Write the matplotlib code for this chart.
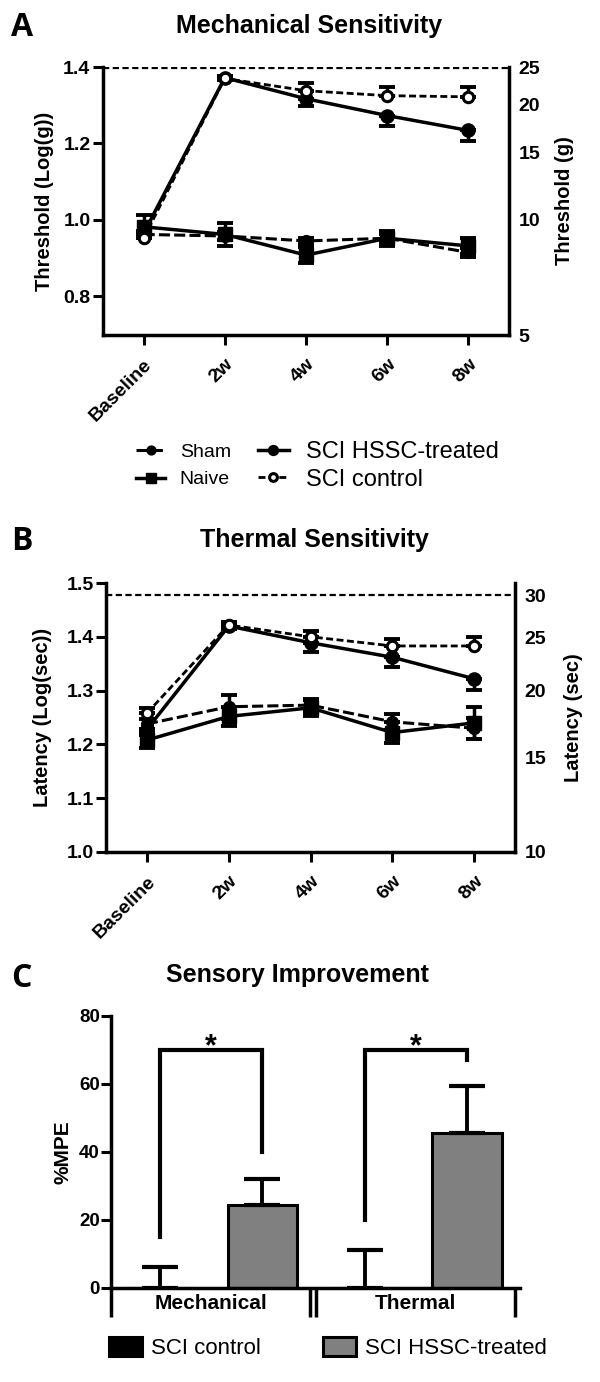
import numpy as np
import matplotlib
matplotlib.use('Agg')
import matplotlib.pyplot as plt

plt.rcParams['font.family'] = ['Liberation Sans', 'DejaVu Sans']
plt.rcParams['lines.scale_dashes'] = False
plt.rcParams['axes.linewidth'] = 2.5

# ---------------- data ----------------
timepoints = ['Baseline', '2w', '4w', '6w', '8w']

mech_sham = [0.962, 0.958, 0.945, 0.952, 0.915]
mech_sham_err = [0.010, 0.010, 0.008, 0.010, 0.012]
mech_naive = [0.982, 0.962, 0.908, 0.952, 0.932]
mech_naive_err = [0.030, 0.030, 0.022, 0.020, 0.022]
mech_hssc = [0.965, 1.372, 1.317, 1.273, 1.234]
mech_hssc_err = [0.010, 0.006, 0.020, 0.028, 0.027]
mech_ctrl = [0.952, 1.370, 1.338, 1.325, 1.322]
mech_ctrl_err = [0.010, 0.006, 0.021, 0.022, 0.025]
mech_left_ticks = [0.8, 1.0, 1.2, 1.4]
mech_right_ticks = [5, 10, 15, 20, 25]
mech_cutoff = 25

therm_sham = [1.238, 1.270, 1.273, 1.242, 1.230]
therm_sham_err = [0.010, 0.022, 0.012, 0.015, 0.020]
therm_naive = [1.208, 1.252, 1.268, 1.222, 1.240]
therm_naive_err = [0.015, 0.018, 0.015, 0.020, 0.030]
therm_hssc = [1.228, 1.420, 1.389, 1.362, 1.322]
therm_hssc_err = [0.010, 0.006, 0.018, 0.018, 0.020]
therm_ctrl = [1.258, 1.422, 1.400, 1.383, 1.383]
therm_ctrl_err = [0.010, 0.006, 0.010, 0.013, 0.016]
therm_left_ticks = [1.0, 1.1, 1.2, 1.3, 1.4, 1.5]
therm_right_ticks = [10, 15, 20, 25, 30]
therm_cutoff = 30

mpe_groups = ['Mechanical', 'Thermal']
mpe_ctrl = [0.0, 0.0]
mpe_ctrl_err = [6.3, 11.3]
mpe_hssc = [24.3, 45.6]
mpe_hssc_err = [7.8, 13.8]
sig_left_end = [15, 20]
sig_right_end = [40, 67]
sig_top = 70
mpe_yticks = [0, 20, 40, 60, 80]

# ---------------- styles ----------------
series_style = {
    'Sham': dict(marker='o', ms=8.5, mfc='black', mec='black', lw=2.2, dashes=(8, 3)),
    'Naive': dict(marker='s', ms=9.5, mfc='black', mec='black', lw=2.5, ls='-'),
    'SCI HSSC-treated': dict(marker='o', ms=9.5, mfc='black', mec='black', lw=2.5, ls='-'),
    'SCI control': dict(marker='o', ms=7.5, mfc='white', mec='black', mew=2.2, lw=2.0, dashes=(5, 2.5)),
}

W, H = 600, 1382


def box(l, t, r, b):
    return [l / W, 1 - b / H, (r - l) / W, (b - t) / H]


fig = plt.figure(figsize=(6, 13.82), dpi=100)
axA = fig.add_axes(box(103, 67, 509, 335))
axB = fig.add_axes(box(106, 583, 515, 852))
axC = fig.add_axes(box(111, 1016, 520, 1288))


def bold_ticks(labels, size):
    for t in labels:
        t.set_fontweight('bold')
        t.set_fontsize(size)


def line_panel(ax, series, ylim, left_ticks, right_ticks, cutoff, ylabel, rlabel,
               lcoord, rcoord):
    x = np.arange(len(timepoints))
    handles = {}
    for name, vals, err, direction in series:
        e = np.asarray(err)
        z = np.zeros_like(e)
        yerr = {'both': [e, e], 'up': [z, e], 'down': [e, z]}[direction]
        ax.errorbar(x, vals, yerr=yerr, fmt='none', ecolor='black', elinewidth=2.5,
                    capsize=6, capthick=2.8, zorder=3)
        ln, = ax.plot(x, vals, color='black', zorder=4, label=name, **series_style[name])
        handles[name] = ln
    ax.axhline(np.log10(cutoff), color='black', lw=1.6, dashes=(4.5, 2.5), zorder=2)
    ax.set_xlim(-0.5, len(timepoints) - 0.5)
    ax.set_ylim(*ylim)
    ax.spines['top'].set_visible(False)
    ax.spines['right'].set_visible(False)
    ax.set_xticks(x)
    ax.set_xticklabels(timepoints, rotation=45, ha='right', va='top', rotation_mode='anchor')
    ax.set_yticks(left_ticks)
    ax.set_yticklabels(['%.1f' % v for v in left_ticks])
    ax.tick_params(axis='both', length=7, width=2.2, direction='out')
    ax.tick_params(axis='y', pad=2)
    ax.tick_params(axis='x', pad=8)
    bold_ticks(ax.get_xticklabels(), 14)
    bold_ticks(ax.get_yticklabels(), 14)
    ax.set_ylabel(ylabel, fontsize=14.5, fontweight='bold')
    ax.yaxis.set_label_coords(lcoord, 0.5)

    axr = ax.twinx()
    axr.set_ylim(*ylim)
    for s in ['top', 'left', 'bottom']:
        axr.spines[s].set_visible(False)
    axr.spines['right'].set_linewidth(2.5)
    axr.set_yticks(np.log10(right_ticks))
    axr.set_yticklabels([str(v) for v in right_ticks])
    axr.tick_params(axis='y', length=0, pad=7)
    bold_ticks(axr.get_yticklabels(), 14)
    axr.set_ylabel(rlabel, fontsize=14.5, fontweight='bold')
    axr.yaxis.set_label_coords(rcoord, 0.5)
    return handles


hA = line_panel(axA,
                [('Sham', mech_sham, mech_sham_err, 'both'),
                 ('Naive', mech_naive, mech_naive_err, 'both'),
                 ('SCI HSSC-treated', mech_hssc, mech_hssc_err, 'down'),
                 ('SCI control', mech_ctrl, mech_ctrl_err, 'up')],
                (np.log10(5), np.log10(25)), mech_left_ticks, mech_right_ticks, mech_cutoff,
                'Threshold (Log(g))', 'Threshold (g)', -0.12, 1.113)

hB = line_panel(axB,
                [('Sham', therm_sham, therm_sham_err, 'both'),
                 ('Naive', therm_naive, therm_naive_err, 'both'),
                 ('SCI HSSC-treated', therm_hssc, therm_hssc_err, 'down'),
                 ('SCI control', therm_ctrl, therm_ctrl_err, 'up')],
                (1.0, 1.5), therm_left_ticks, therm_right_ticks, therm_cutoff,
                'Latency (Log(sec))', 'Latency (sec)', -0.132, 1.12)

# legend for A (two columns with different sizes)
fig.legend([hA['Sham'], hA['Naive']], ['Sham', 'Naive'], loc='center left',
           bbox_to_anchor=(136 / W, 1 - 466 / H), frameon=False, fontsize=14,
           handlelength=1.5, handletextpad=0.75, labelspacing=0.5, borderpad=0,
           borderaxespad=0, markerscale=0.75)
fig.legend([hA['SCI HSSC-treated'], hA['SCI control']], ['SCI HSSC-treated', 'SCI control'],
           loc='center left', bbox_to_anchor=(258 / W, 1 - 466 / H), frameon=False,
           fontsize=17, handlelength=1.3, handletextpad=0.72, labelspacing=0.22,
           borderpad=0, borderaxespad=0, markerscale=0.75)

# ---------------- panel C ----------------
ng = len(mpe_groups)
pos_ctrl = np.arange(ng) * 2
pos_hssc = pos_ctrl + 1
bw = 0.68
bc = axC.bar(pos_ctrl, mpe_ctrl, width=bw, color='black', edgecolor='black', lw=2.2, zorder=2)
bh = axC.bar(pos_hssc, mpe_hssc, width=bw, color='#808080', edgecolor='black', lw=2.2, zorder=2)
zc = np.zeros(ng)
axC.errorbar(pos_ctrl, mpe_ctrl, yerr=[zc, mpe_ctrl_err], fmt='none', ecolor='black',
             elinewidth=2.8, capsize=13, capthick=3, zorder=3)
axC.errorbar(pos_hssc, mpe_hssc, yerr=[zc, mpe_hssc_err], fmt='none', ecolor='black',
             elinewidth=2.8, capsize=13, capthick=3, zorder=3)
axC.set_xlim(-0.48, 2 * ng - 0.48)
axC.set_ylim(0, 80)
axC.spines['top'].set_visible(False)
axC.spines['right'].set_visible(False)
axC.set_xticks([])
axC.set_yticks(mpe_yticks)
axC.tick_params(axis='y', length=7, width=2.2, pad=1)
bold_ticks(axC.get_yticklabels(), 13.5)
axC.set_ylabel('%MPE', fontsize=15, fontweight='bold')
axC.yaxis.set_label_coords(-0.094, 0.5)

drop = -8.5
for i in range(ng):
    lo = pos_ctrl[i] - 0.48
    hi = pos_hssc[i] + 0.47
    axC.plot([lo, lo], [0, drop], color='black', lw=2.5, clip_on=False, solid_capstyle='butt')
    axC.plot([hi, hi], [0, drop], color='black', lw=2.5, clip_on=False, solid_capstyle='butt')
    axC.text((lo + hi) / 2, -1.8, mpe_groups[i], ha='center', va='top', fontsize=15,
             fontweight='bold')
    axC.plot([pos_ctrl[i], pos_ctrl[i], pos_hssc[i], pos_hssc[i]],
             [sig_left_end[i], sig_top, sig_top, sig_right_end[i]], color='black', lw=3,
             clip_on=False, solid_joinstyle='miter')
    axC.text((pos_ctrl[i] + pos_hssc[i]) / 2, sig_top - 1.5, '*', ha='center', va='baseline',
             fontsize=22, fontweight='bold')

fig.legend([bc, bh], ['SCI control', 'SCI HSSC-treated'], ncol=2, loc='center left',
           bbox_to_anchor=(109 / W, 1 - 1348 / H), frameon=False, fontsize=16,
           handlelength=1.49, handleheight=0.9, handletextpad=0.4, columnspacing=2.8,
           borderpad=0, borderaxespad=0)

# ---------------- titles and panel letters ----------------
fig.text(309 / W, 1 - 33 / H, 'Mechanical Sensitivity', ha='center', va='baseline',
         fontsize=18, fontweight='bold')
fig.text(314 / W, 1 - 547 / H, 'Thermal Sensitivity', ha='center', va='baseline',
         fontsize=18, fontweight='bold')
fig.text(297 / W, 1 - 982 / H, 'Sensory Improvement', ha='center', va='baseline',
         fontsize=18, fontweight='bold')
for letter, yb in [('A', 36), ('B', 550), ('C', 987)]:
    fig.text(11 / W, 1 - yb / H, letter, ha='left', va='baseline', fontsize=23,
             fontweight='bold', family=['Open Sans', 'DejaVu Sans'])

fig.savefig('out.png', dpi=100)
